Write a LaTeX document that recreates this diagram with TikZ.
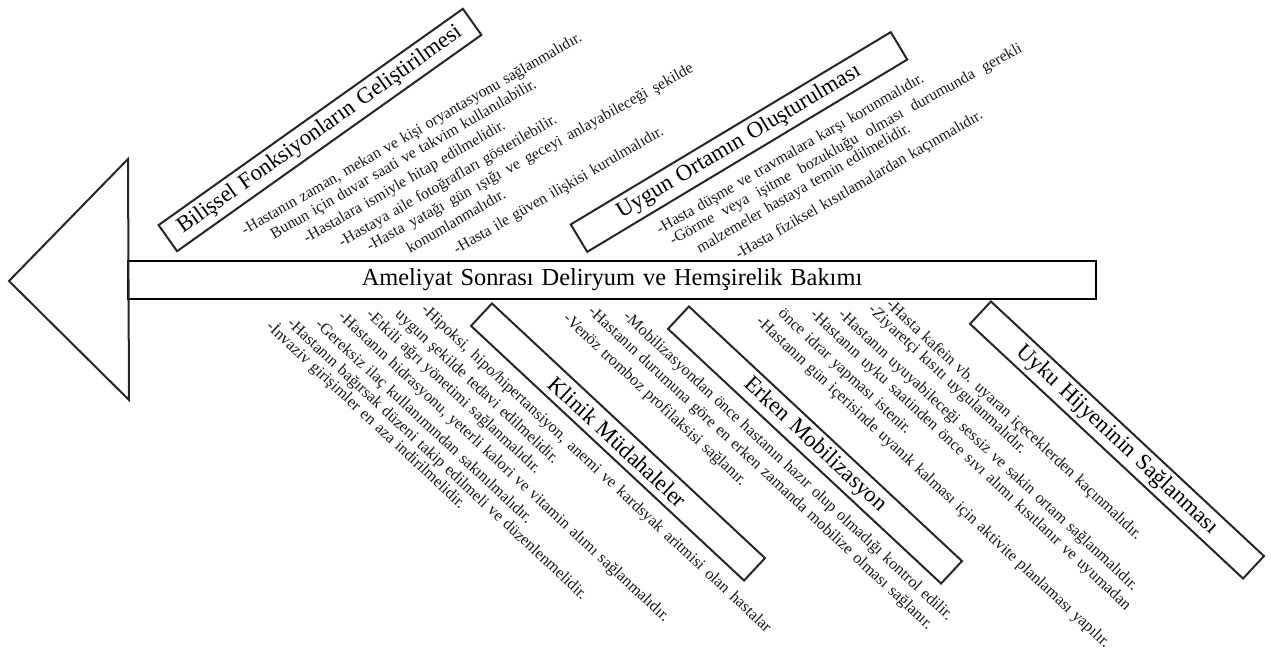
\documentclass[tikz,border=0pt]{standalone}
\usepackage{fontspec}
\setmainfont{Liberation Serif}
\newfontfamily\itemfont[WordSpace=1.5]{Liberation Serif}
\newfontfamily\upperfont[WordSpace=1.9]{Liberation Serif}
\newfontfamily\titlefont[WordSpace=1.3]{Liberation Serif}
\newcommand{\jline}[2]{\makebox[#1][s]{#2}}
\usepackage{tikz}

\begin{document}
\begin{tikzpicture}[x=0.75pt,y=-0.75pt,
    box/.style={draw=black!85,line width=1.5pt,inner sep=0pt,
      minimum width=280pt,minimum height=24pt,font=\titlefont\fontsize{17}{19}\selectfont},
    item/.style={anchor=west,inner sep=0pt,text=black!90,
      font=\itemfont\fontsize{12.2}{13}\selectfont,text height=1.45ex,text depth=0.2ex},
    upitem/.style={item,font=\upperfont\fontsize{11.8}{13}\selectfont}]
  \useasboundingbox (0,0) rectangle (1271,649);
  % spine and head
  \node[draw=black,line width=2.2pt,minimum width=726pt,minimum height=28.5pt,
    inner sep=0pt,font=\titlefont\fontsize{18.3}{20}\selectfont] (spine) at (612,280)
    {Ameliyat Sonrası Deliryum ve Hemşirelik Bakımı};
  \coordinate (headtop) at (128,159);
  \coordinate (headtip) at (9,281);
  \coordinate (headbot) at (129,400);
  \draw[black!85,line width=1.5pt,line join=miter] (headtop) -- (headtip) -- (headbot) -- cycle;

  % upper branches
  \node[box,rotate=35.4] (bilissel) at (320,130) {Bilişsel Fonksiyonların Geliştirilmesi};
  \node[upitem,rotate=30] (b1) at (243,232) {-Hastanın zaman, mekan ve kişi oryantasyonu sağlanmalıdır.};
  \node[upitem,rotate=30] (b2) at (272,236) {Bunun için duvar saati ve takvim kullanılabilir.};
  \node[upitem,rotate=30] (b3) at (305,240) {-Hastalara ismiyle hitap edilmelidir.};
  \node[upitem,rotate=30] (b4) at (340,244) {-Hastaya aile fotoğrafları gösterilebilir.};
  \node[upitem,rotate=29] (b5) at (368,248) {\jline{278pt}{-Hasta yatağı gün ışığı ve geceyi anlayabileceği şekilde}};
  \node[upitem,rotate=30] (b6) at (408,250) {konumlanmalıdır.};
  \node[upitem,rotate=30] (b7) at (455,251) {-Hasta ile güven ilişkisi kurulmalıdır.};

  \node[box,rotate=31] (ortam) at (739,142) {Uygun Ortamın Oluşturulması};
  \node[upitem,rotate=30] (o1) at (658,231) {-Hasta düşme ve travmalara karşı korunmalıdır.};
  \node[upitem,rotate=29] (o2) at (671,242) {\jline{300pt}{-Görme veya işitme bozukluğu olması durumunda gerekli}};
  \node[upitem,rotate=30] (o3) at (698,250) {malzemeler hastaya temin edilmelidir.};
  \node[upitem,rotate=30] (o4) at (737,256) {-Hasta fiziksel kısıtlamalardan kaçınmalıdır.};

  % lower branches
  \node[box,rotate=-43,minimum height=23pt] (klinik) at (618,442) {Klinik Müdahaleler};
  \node[item,rotate=-43] (k1) at (423,308) {\jline{354pt}{-Hipoksi, hipo/hipertansiyon, anemi ve kardsyak aritmisi olan hastalar}};
  \node[item,rotate=-43] (k2) at (397,313) {uygun şekilde tedavi edilmelidir.};
  \node[item,rotate=-43] (k3) at (368,313) {-Etkili ağrı yönetimi sağlanmalıdır.};
  \node[item,rotate=-43] (k4) at (340,315) {-Hastanın hidrasyonu, yeterli kalori ve vitamin alımı sağlanmalıdır.};
  \node[item,rotate=-43] (k5) at (317,323) {-Gereksiz ilaç kullanımından sakınılmalıdır.};
  \node[item,rotate=-43] (k6) at (289,322) {-Hastanın bağırsak düzeni takip edilmeli ve düzenlenmelidir.};
  \node[item,rotate=-43] (k7) at (268,325) {-İnvaziv girişimler en aza indirilmelidir.};

  \node[box,rotate=-43,minimum height=23pt] (erken) at (815,445) {Erken Mobilizasyon};
  \node[item,rotate=-43] (e1) at (625,315) {-Mobilizasyondan önce hastanın hazır olup olmadığı kontrol edilir.};
  \node[item,rotate=-43] (e2) at (590,310) {-Hastanın durumuna göre en erken zamanda mobilize olması sağlanır.};
  \node[item,rotate=-43] (e3) at (565,317) {-Venöz tromboz profilaksisi sağlanır.};

  \node[box,rotate=-43,minimum height=23pt] (uyku) at (1117,440) {Uyku Hijyeninin Sağlanması};
  \node[item,rotate=-43] (u1) at (888,303) {-Hasta kafein vb. uyaran içeceklerden kaçınmalıdır.};
  \node[item,rotate=-43] (u2) at (870,308) {-Ziyaretçi kısıtı uygulanmalıdır.};
  \node[item,rotate=-43] (u3) at (840,313) {-Hastanın uyuyabileceği sessiz ve sakin ortam sağlanmalıdır.};
  \node[item,rotate=-43] (u4) at (812,313) {\jline{324pt}{-Hastanın uyku saatinden önce sıvı alımı kısıtlanır ve uyumadan}};
  \node[item,rotate=-43] (u5) at (780,312) {önce idrar yapması istenir.};
  \node[item,rotate=-43] (u6) at (758,320) {-Hastanın gün içerisinde uyanık kalması için aktivite planlaması yapılır.};
\end{tikzpicture}
\end{document}
